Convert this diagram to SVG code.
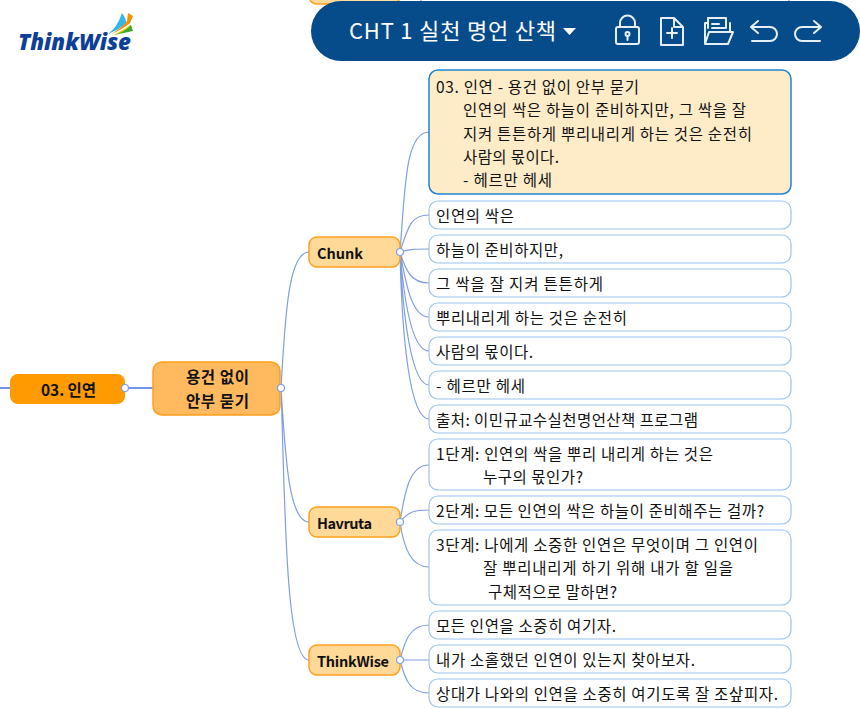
<svg xmlns="http://www.w3.org/2000/svg" width="860" height="709" viewBox="0 0 860 709">
<style>
text{font-family:"Noto Sans CJK KR","Noto Sans",sans-serif;font-size:15.5px;fill:#111}
.n text{transform:translateY(1px)}
.b{font-weight:700}
.lat{font-size:14.500px}
.leaf{fill:#fff;stroke:#9cc4ee;stroke-width:1.2}
.tp{fill:#ffd998;stroke:#ff9f1c;stroke-width:1.5}
.c{fill:none;stroke:#7f9fe0;stroke-width:1.2}
.k{fill:#fff;stroke:#7f9fe0;stroke-width:1.2}
.ic{fill:none;stroke:#e6eef6;stroke-width:2;stroke-linejoin:round;stroke-linecap:round}
</style>
<rect width="860" height="709" fill="#fff"/>
<g id="connectors">
<path class="c" style="stroke-width:2;stroke:#6f97e4" d="M0 388H10M125 388H153"/>
<path class="c" d="M281 388C285 320 288 252 309 252M281 388C285 450 288 522 309 522M281 388C285 500 285 660 309 660"/>
<path class="c" d="M400 252C405 190 405 132 429 132M400 252C408 228 410 215 429 215M400 252C410 249 415 249 429 249M400 252C406 272 412 283 429 283M400 252C406 285 412 317 429 317M400 252C404 300 412 351 429 351M400 252C403 320 412 385 429 385M400 252C402 340 410 419 429 419"/>
<path class="c" d="M400 522C405 490 410 465 429 465M400 522C408 512 414 510 429 510M400 522C404 550 412 567 429 567"/>
<path class="c" d="M400 660C405 640 410 625 429 625M400 660H429M400 660C405 680 410 693 429 693"/>
<path class="c" d="M381 0V3M421 0V3M789 0V3"/>
</g>
<g id="node-top-fragment"><rect class="tp" x="309" y="-20" width="91" height="24" rx="8"/></g>
<g id="logo">
<path d="M108 34Q117 28 122 13Q127 20 126 24Q118 30 108 34Z" fill="#33b5ee"/>
<path d="M111 34Q122 28 127 21L128 13L133 16L130 23Q122 30 111 34Z" fill="#f39200"/>
<path d="M113 35Q124 30 130 25L132 27Q124 33 113 35Z" fill="#f7c600"/>
<path d="M114 35Q125 32 131 25L133 31Q124 33 114 35Z" fill="#3aa935"/>
<text class="b" x="18" y="50" style="font-family:'Open Sans','Liberation Sans',sans-serif;font-size:22px;font-style:italic;font-weight:800;fill:#0b3f98" textLength="113" lengthAdjust="spacingAndGlyphs">ThinkWise</text>
</g>
<g id="toolbar">
<rect x="311" y="1" width="549" height="60" rx="30" fill="#064b8a"/>
<text x="349" y="39" style="font-size:22px;fill:#fff" textLength="207">CHT 1 실천 명언 산책</text>
<path d="M563 28H576L569.500 35Z" fill="#fff"/>
<g class="ic">
<rect x="616" y="27" width="23" height="17" rx="2"/><path d="M620 27V23A7.500 7.500 0 0 1 635 23V27"/><circle cx="627.500" cy="34" r="2"/><path d="M627.500 36V40"/>
<path d="M661 18H674L683 27V45H661ZM674 18V27H683M667 33H677M672 28V38"/>
<path d="M705 43V23H708V28M708 23V18H726V28M730 23V32M712 24H719M712 28H725M705 44L709 32H733L728 44Z"/>
<path d="M758 21L751 27L758 33M751 27H770A7 7 0 0 1 770 41H752"/>
<path d="M814 21L821 27L814 33M821 27H802A7 7 0 0 0 802 41H820"/>
</g>
</g>
<g id="node-root"><rect x="10" y="374" width="115" height="30" rx="8" fill="#ff9a00"/><text class="b" x="41" y="396" textLength="55">03. 인연</text></g>
<circle class="k" cx="125" cy="388" r="3.500"/>
<g id="node-main"><rect x="153" y="362" width="127" height="53" rx="9" fill="#ffb95f" stroke="#ff9f1c" stroke-width="1.500"/><text class="b" x="186" y="383" textLength="63">용건 없이</text><text class="b" x="186" y="407" textLength="63">안부 묻기</text></g>
<circle class="k" cx="281" cy="388" r="3.500"/>
<g id="node-chunk"><rect class="tp" x="309" y="237" width="91" height="30" rx="8"/><text class="b lat" x="317" y="259">Chunk</text></g>
<g id="node-havruta"><rect class="tp" x="309" y="507" width="91" height="30" rx="8"/><text class="b lat" x="317" y="529" textLength="55">Havruta</text></g>
<g id="node-thinkwise"><rect class="tp" x="309" y="645" width="91" height="30" rx="8"/><text class="b lat" x="317" y="667" textLength="72">ThinkWise</text></g>
<circle class="k" cx="400" cy="252" r="3.500"/><circle class="k" cx="400" cy="522" r="3.500"/><circle class="k" cx="400" cy="660" r="3.500"/>
<g id="node-quote" class="n"><rect x="429" y="70" width="362" height="124" rx="9" fill="#feecc9" stroke="#1f82d2" stroke-width="1.500"/>
<text x="436" y="92" textLength="203">03. 인연 - 용건 없이 안부 묻기</text><text x="463" y="115" textLength="283">인연의 싹은 하늘이 준비하지만, 그 싹을 잘</text><text x="463" y="139" textLength="289">지켜 튼튼하게 뿌리내리게 하는 것은 순전히</text><text x="463" y="162" textLength="96">사람의 몫이다.</text><text x="463" y="185" textLength="89">- 헤르만 헤세</text></g>
<g id="node-c1" class="n"><rect class="leaf" x="429" y="201" width="362" height="28" rx="9"/><text x="436" y="221" textLength="78">인연의 싹은</text></g>
<g id="node-c2" class="n"><rect class="leaf" x="429" y="235" width="362" height="28" rx="9"/><text x="436" y="255" textLength="127">하늘이 준비하지만,</text></g>
<g id="node-c3" class="n"><rect class="leaf" x="429" y="269" width="362" height="28" rx="9"/><text x="436" y="289" textLength="167">그 싹을 잘 지켜 튼튼하게</text></g>
<g id="node-c4" class="n"><rect class="leaf" x="429" y="303" width="362" height="28" rx="9"/><text x="436" y="323" textLength="191">뿌리내리게 하는 것은 순전히</text></g>
<g id="node-c5" class="n"><rect class="leaf" x="429" y="337" width="362" height="28" rx="9"/><text x="436" y="357" textLength="97">사람의 몫이다.</text></g>
<g id="node-c6" class="n"><rect class="leaf" x="429" y="371" width="362" height="28" rx="9"/><text x="436" y="391" textLength="89">- 헤르만 헤세</text></g>
<g id="node-c7" class="n"><rect class="leaf" x="429" y="405" width="362" height="28" rx="9"/><text x="436" y="425" textLength="262">출처: 이민규교수실천명언산책 프로그램</text></g>
<g id="node-h1" class="n"><rect class="leaf" x="429" y="439" width="362" height="51" rx="9"/><text x="436" y="459" textLength="277">1단계: 인연의 싹을 뿌리 내리게 하는 것은</text><text x="483" y="482" textLength="100">누구의 몫인가?</text></g>
<g id="node-h2" class="n"><rect class="leaf" x="429" y="496" width="362" height="28" rx="9"/><text x="436" y="516" textLength="328">2단계: 모든 인연의 싹은 하늘이 준비해주는 걸까?</text></g>
<g id="node-h3" class="n"><rect class="leaf" x="429" y="530" width="362" height="75" rx="9"/><text x="436" y="550" textLength="322">3단계: 나에게 소중한 인연은 무엇이며 그 인연이</text><text x="483" y="573" textLength="250">잘 뿌리내리게 하기 위해 내가 할 일을</text><text x="488" y="597" textLength="129">구체적으로 말하면?</text></g>
<g id="node-t1" class="n"><rect class="leaf" x="429" y="611" width="362" height="28" rx="9"/><text x="436" y="631" textLength="180">모든 인연을 소중히 여기자.</text></g>
<g id="node-t2" class="n"><rect class="leaf" x="429" y="645" width="362" height="28" rx="9"/><text x="436" y="665" textLength="259">내가 소홀했던 인연이 있는지 찾아보자.</text></g>
<g id="node-t3" class="n"><rect class="leaf" x="429" y="679" width="362" height="28" rx="9"/><text x="436" y="699" textLength="342">상대가 나와의 인연을 소중히 여기도록 잘 조샆피자.</text></g>
</svg>
